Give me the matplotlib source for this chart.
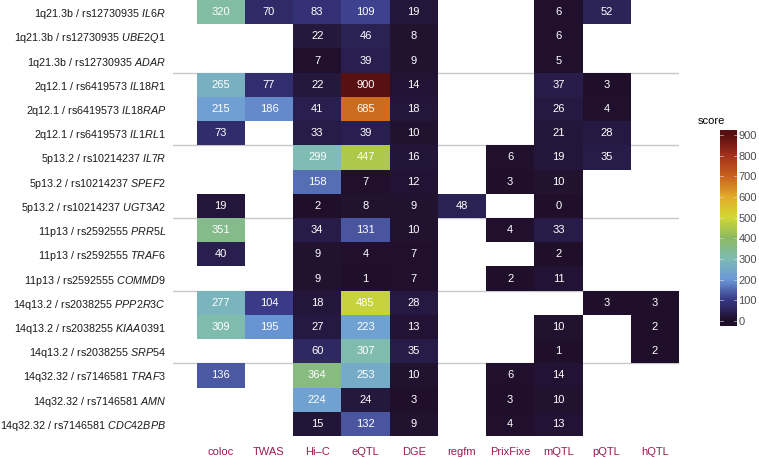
import numpy as np
import matplotlib
matplotlib.use("Agg")
import matplotlib.pyplot as plt
from matplotlib.colors import LinearSegmentedColormap, Normalize

plt.rcParams['font.family'] = ['Liberation Sans', 'DejaVu Sans']
plt.rcParams['mathtext.fontset'] = 'custom'
plt.rcParams['mathtext.rm'] = 'Liberation Sans'
plt.rcParams['mathtext.it'] = 'Liberation Sans:italic'

# ---- data ----
columns = ["coloc", "TWAS", "Hi\u2013C", "eQTL", "DGE", "regfm", "PrixFixe", "mQTL", "pQTL", "hQTL"]
loci = ["1q21.3b / rs12730935"] * 3 + ["2q12.1 / rs6419573"] * 3 + ["5p13.2 / rs10214237"] * 3 + \
       ["11p13 / rs2592555"] * 3 + ["14q13.2 / rs2038255"] * 3 + ["14q32.32 / rs7146581"] * 3
genes = ["IL6R", "UBE2Q1", "ADAR", "IL18R1", "IL18RAP", "IL1RL1", "IL7R", "SPEF2", "UGT3A2",
         "PRR5L", "TRAF6", "COMMD9", "PPP2R3C", "KIAA0391", "SRP54", "TRAF3", "AMN", "CDC42BPB"]
N = None
coloc    = [320, N, N, 265, 215, 73, N, N, 19, 351, 40, N, 277, 309, N, 136, N, N]
twas     = [70, N, N, 77, 186, N, N, N, N, N, N, N, 104, 195, N, N, N, N]
hic      = [83, 22, 7, 22, 41, 33, 299, 158, 2, 34, 9, 9, 18, 27, 60, 364, 224, 15]
eqtl     = [109, 46, 39, 900, 685, 39, 447, 7, 8, 131, 4, 1, 485, 223, 307, 253, 24, 132]
dge      = [19, 8, 9, 14, 18, 10, 16, 12, 9, 10, 7, 7, 28, 13, 35, 10, 3, 9]
regfm    = [N, N, N, N, N, N, N, N, 48, N, N, N, N, N, N, N, N, N]
prixfixe = [N, N, N, N, N, N, 6, 3, N, 4, N, 2, N, N, N, 6, 3, 4]
mqtl     = [6, 6, 5, 37, 26, 21, 19, 10, 0, 33, 2, 11, N, 10, 1, 14, 10, 13]
pqtl     = [52, N, N, 3, 4, 28, 35, N, N, N, N, N, 3, N, N, N, N, N]
hqtl     = [N, N, N, N, N, N, N, N, N, N, N, N, 3, 2, 2, N, N, N]
series = [coloc, twas, hic, eqtl, dge, regfm, prixfixe, mqtl, pqtl, hqtl]
group_breaks = [3, 6, 9, 12, 15]
cbar_ticks = [0, 100, 200, 300, 400, 500, 600, 700, 800, 900]

# ---- colormap ----
anchors = [(0.0, "#1f0f2a"), (100/900, "#393886"), (200/900, "#6c9ad9"), (300/900, "#7ebcb4"),
           (400/900, "#8cba62"), (500/900, "#d2d834"), (600/900, "#e2aa2a"), (700/900, "#c8611e"),
           (800/900, "#a2301c"), (1.0, "#581010")]
cmap = LinearSegmentedColormap.from_list("score", anchors)
norm = Normalize(0, 900)

W, H = 759, 457
fig = plt.figure(figsize=(W/100, H/100), dpi=100)
ax = fig.add_axes([173/W, (457-436)/H, (679-173)/W, 436/H])

nrows = len(genes)
for b in group_breaks:
    ax.axhline(b + 0.5, color="#c8c8c8", lw=1.0, zorder=1)

for j, col in enumerate(series):
    for i, v in enumerate(col):
        if v is None:
            continue
        ax.add_patch(plt.Rectangle((j + 0.5, i + 0.5), 1, 1, facecolor=cmap(norm(v)),
                                   edgecolor="none", zorder=2))
        ax.text(j + 1, i + 1, str(v), ha="center", va="center", color="white",
                fontsize=8, zorder=3)

ax.set_xlim(0.01, 10.5)
ax.set_ylim(nrows + 0.5, 0.5)
ax.set_xticks(np.arange(1, 11))
ax.set_xticklabels(columns, color="#9b1c4f", fontsize=8)
ax.set_yticks(np.arange(1, nrows + 1))
ax.set_yticklabels([f"{l} " + r"$\mathit{" + g + "}$" for l, g in zip(loci, genes)],
                   fontsize=7.75, color="#1a1a1a")
ax.tick_params(axis="both", length=0)
ax.tick_params(axis="x", pad=8)
ax.tick_params(axis="y", pad=5)
for s in ax.spines.values():
    s.set_visible(False)

# ---- colorbar ----
lo, hi = -24, 924
cax = fig.add_axes([720/W, (457-326)/H, 17/W, 196/H])
grad = np.linspace(lo, hi, 256).reshape(-1, 1)
cax.imshow(grad, aspect="auto", cmap=cmap, norm=norm, origin="lower", extent=[0, 1, lo, hi])
cax.set_xlim(0, 1)
cax.set_ylim(lo, hi)
for t in cbar_ticks:
    cax.plot([0, 0.2], [t, t], color="#dddddd", lw=0.6, alpha=0.7)
    cax.plot([0.8, 1], [t, t], color="#dddddd", lw=0.6, alpha=0.7)
cax.set_xticks([])
cax.yaxis.tick_right()
cax.set_yticks(cbar_ticks)
cax.set_yticklabels([str(t) for t in cbar_ticks], fontsize=8, color="#4d4d4d")
cax.tick_params(axis="y", length=0, pad=1)
for s in cax.spines.values():
    s.set_visible(False)
fig.text(698/W, 1 - 121/H, "score", fontsize=8, ha="left", va="center")

fig.savefig("out.png", dpi=100)
